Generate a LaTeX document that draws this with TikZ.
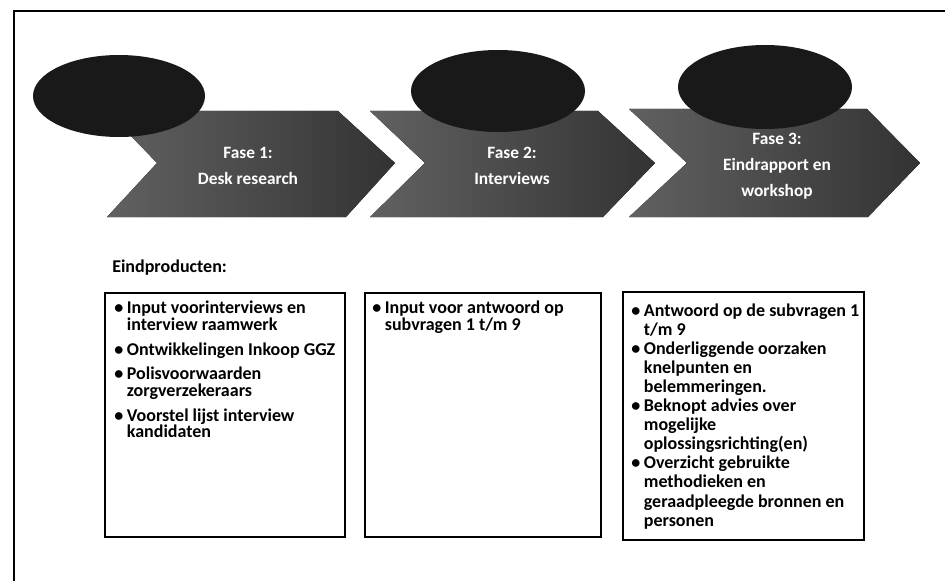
\documentclass[tikz,border=0pt]{standalone}
\usepackage{fontspec}
\setmainfont{Carlito}
\newcommand\punt[1]{\par\hangindent=0.7em\hangafter=1\noindent\makebox[0.7em][l]{\textbullet}#1}

\begin{document}
\begin{tikzpicture}[x=0.75pt,y=-0.75pt,
    pijl/.style={left color=black!62,right color=black!80},
    kop/.style={fill=black!90},
    fasetekst/.style={text=white,align=center,font=\bfseries\fontsize{13}{19.5}\selectfont},
    kader/.style={draw,line width=1.3pt},
    lijst/.style={anchor=north west,inner sep=0pt,text width=#1,
      execute at begin node={\raggedright\spaceskip=0pt\xspaceskip=0pt}},
    lijstfont/.style={font=\bfseries\fontsize{13.5}{#1}\selectfont}]
  \useasboundingbox (0,0) rectangle (945,581);
  \draw[line width=1.8pt] (14,581) -- (14,11) -- (945,11);

  \fill[pijl] (107,111) -- (338,111) -- (395,163) -- (346,217) -- (107,217) -- (157,163) -- cycle;
  \fill[pijl] (370,111) -- (598,111) -- (655,163) -- (603,217) -- (370,217) -- (425,163) -- cycle;
  \fill[pijl] (629,109) -- (867,109) -- (920,163) -- (868,217) -- (629,217) -- (687,163) -- cycle;

  \fill[kop] (119,96) ellipse [x radius=86,y radius=41];
  \fill[kop] (498,91) ellipse [x radius=87,y radius=41];
  \fill[kop] (765,87) ellipse [x radius=87,y radius=42];

  \node[fasetekst] (fase1) at (248,166) {Fase 1:\\Desk research};
  \node[fasetekst] (fase2) at (512,166) {Fase 2:\\Interviews};
  \node[fasetekst] (fase3) at (777,166) {Fase 3:\\Eindrapport en\\workshop};

  \node[anchor=west,inner sep=0pt,lijstfont=13] (eind) at (112,268) {Eindproducten:};

  \draw[kader] (105,293) rectangle (345,537);
  \draw[kader] (365,293) rectangle (601,537);
  \draw[kader] (623,292) rectangle (864,540);

  \node[lijst=185pt,lijstfont=12.5] (lijst1) at (114,289) {\setlength\parskip{6pt}%
    \punt{Input voorinterviews en\newline interview raamwerk}
    \punt{Ontwikkelingen Inkoop GGZ}
    \punt{Polisvoorwaarden\newline zorgverzekeraars}
    \punt{Voorstel lijst interview\newline kandidaten}\par};
  \node[lijst=185pt,lijstfont=12.5] (lijst2) at (372,297) {%
    \punt{Input voor antwoord op\newline subvragen 1 t/m 9}\par};
  \node[lijst=190pt,lijstfont=14.3] (lijst3) at (631,297) {%
    \punt{Antwoord op de subvragen 1\newline t/m 9}
    \punt{Onderliggende oorzaken\newline knelpunten en\newline belemmeringen.}
    \punt{Beknopt advies over\newline mogelijke\newline oplossingsrichting(en)}
    \punt{Overzicht gebruikte\newline methodieken en\newline geraadpleegde bronnen en\newline personen}\par};
\end{tikzpicture}
\end{document}
